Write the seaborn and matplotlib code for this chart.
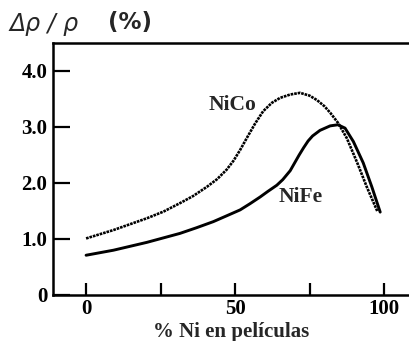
import matplotlib
matplotlib.use("Agg")
import matplotlib.pyplot as plt
import seaborn as sns
import pandas as pd

# Data
nico_x = [0, 9.2, 20.4, 26, 31.5, 36, 40.5, 44, 47.2, 49.5, 51.7, 53.9, 56.7, 59.4, 62.3,
          65.1, 68.5, 71.8, 75, 77.5, 80, 82, 84.6, 87.5, 91, 94.2, 97.7]
nico_y = [1.01, 1.16, 1.37, 1.49, 1.64, 1.77, 1.93, 2.07, 2.24, 2.4, 2.59, 2.8, 3.06, 3.28, 3.43,
          3.52, 3.58, 3.61, 3.56, 3.48, 3.37, 3.25, 3.07, 2.8, 2.36, 1.93, 1.5]
nife_x = [0, 9.2, 20.4, 31.5, 37, 42.7, 47, 51.7, 55, 58.4, 61, 64.0, 66, 68.5, 70, 71.5,
          73, 74.5, 76, 78.5, 81.9, 84.5, 86.9, 89.7, 93, 95.9, 98.7]
nife_y = [0.71, 0.80, 0.94, 1.10, 1.2, 1.31, 1.41, 1.52, 1.63, 1.75, 1.85, 1.96, 2.06, 2.22,
          2.36, 2.5, 2.63, 2.75, 2.84, 2.94, 3.02, 3.04, 2.98, 2.74, 2.36, 1.93, 1.48]
x_ticks = [0, 25, 50, 75, 100]
x_ticklabels = ["0", "", "50", "", "100"]
y_ticks = [0, 1, 2, 3, 4]
y_ticklabels = ["0", "1.0", "2.0", "3.0", "4.0"]
series_labels = ["NiCo", "NiFe"]
title_left = "Δρ / ρ"
title_right = "(%)"
xlabel_text = "% Ni en películas"

sns.set_theme(style="white")
plt.rcParams["font.family"] = ["Liberation Serif", "DejaVu Serif"]

fig = plt.figure(figsize=(4.1, 3.41), dpi=100)
ax = fig.add_axes([53 / 410, 1 - 295 / 341, 1 - 53 / 410, (295 - 43) / 341])

df_co = pd.DataFrame({"x": nico_x, "y": nico_y})
df_fe = pd.DataFrame({"x": nife_x, "y": nife_y})
sns.lineplot(data=df_co, x="x", y="y", ax=ax, color="black", lw=1.9,
             linestyle=(0, (1.0, 0.35)), sort=False, estimator=None)
sns.lineplot(data=df_fe, x="x", y="y", ax=ax, color="black", lw=2.1,
             sort=False, estimator=None, solid_joinstyle="round")

ax.set_xlim(-11.1, 108.7)
ax.set_ylim(0, 4.5)

for side in ["left", "top", "bottom"]:
    ax.spines[side].set_visible(True)
    ax.spines[side].set_color("black")
    ax.spines[side].set_linewidth(1.8)
ax.spines["right"].set_visible(False)

ax.set_xticks(x_ticks)
ax.set_xticklabels(x_ticklabels, fontsize=15, fontweight="bold")
ax.set_yticks(y_ticks)
ax.set_yticklabels(y_ticklabels, fontsize=15, fontweight="bold")
ax.tick_params(axis="x", direction="in", length=9, width=1.6, pad=3, colors="black")
ax.tick_params(axis="y", direction="in", length=12, width=1.6, pad=4, colors="black")
ax.tick_params(bottom=True, left=True)

ax.set_xlabel(xlabel_text, fontsize=15, fontweight="bold", labelpad=2)
ax.set_ylabel("")

ax.text(49, 3.39, series_labels[0], fontsize=15.5, fontweight="bold",
        ha="center", va="center")
ax.text(72, 1.75, series_labels[1], fontsize=15.5, fontweight="bold",
        ha="center", va="center")

fig.text(9 / 410, 1 - 24 / 341, title_left, fontsize=17, style="italic",
         family="DejaVu Sans", ha="left", va="center")
fig.text(108 / 410, 1 - 23 / 341, title_right, fontsize=16.5, fontweight="bold",
         family="DejaVu Sans", ha="left", va="center")

fig.savefig("out.png", dpi=100)
